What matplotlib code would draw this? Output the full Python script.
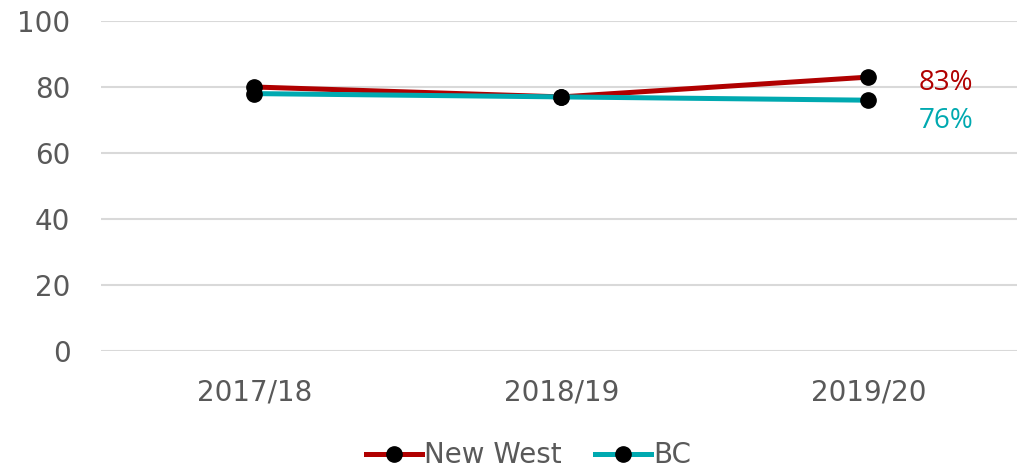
import matplotlib
matplotlib.use("Agg")
import matplotlib.pyplot as plt

# data
years = ["2017/18", "2018/19", "2019/20"]
new_west = [80, 77, 83]
bc = [78, 77, 76]
yticks = [0, 20, 40, 60, 80, 100]

red = "#B00000"
teal = "#00A9B0"
grey = "#595959"

plt.rcParams['font.family'] = ['DejaVu Sans']

fig = plt.figure(figsize=(10.17, 4.73), dpi=100)
ax = fig.add_axes([101 / 1017, 122 / 473, 921 / 1017, 330 / 473])

x = range(len(years))
ax.plot(x, new_west, color=red, lw=3.6, marker='o', ms=11,
        mfc='black', mec='black', label="New West", zorder=3)
ax.plot(x, bc, color=teal, lw=3.6, marker='o', ms=11,
        mfc='black', mec='black', label="BC", zorder=3)

# end labels
ax.annotate(f"{new_west[-1]}%", (x[-1], new_west[-1]), xytext=(36, -4),
            textcoords='offset points', color=red, fontsize=20, va='center',
            family='Open Sans')
ax.annotate(f"{bc[-1]}%", (x[-1], bc[-1]), xytext=(36, -15),
            textcoords='offset points', color=teal, fontsize=20, va='center',
            family='Open Sans')

ax.set_xlim(-0.5, 2.5)
ax.set_ylim(0, 100)
ax.set_yticks(yticks)
ax.set_xticks(list(x))
ax.set_xticklabels(years)
ax.yaxis.grid(True, color="#D9D9D9", lw=1.5)
ax.set_axisbelow(True)
for s in ax.spines.values():
    s.set_visible(False)
ax.tick_params(axis='both', length=0, labelsize=20, colors=grey)
ax.tick_params(axis='y', pad=22)
ax.tick_params(axis='x', pad=20)

leg = fig.legend(loc='lower center', bbox_to_anchor=(0.52, -0.045), ncol=2,
                 frameon=False, fontsize=20, handlelength=2.0,
                 columnspacing=1.2, handletextpad=0.1)
for t in leg.get_texts():
    t.set_color(grey)

fig.savefig("out.png", dpi=100)
